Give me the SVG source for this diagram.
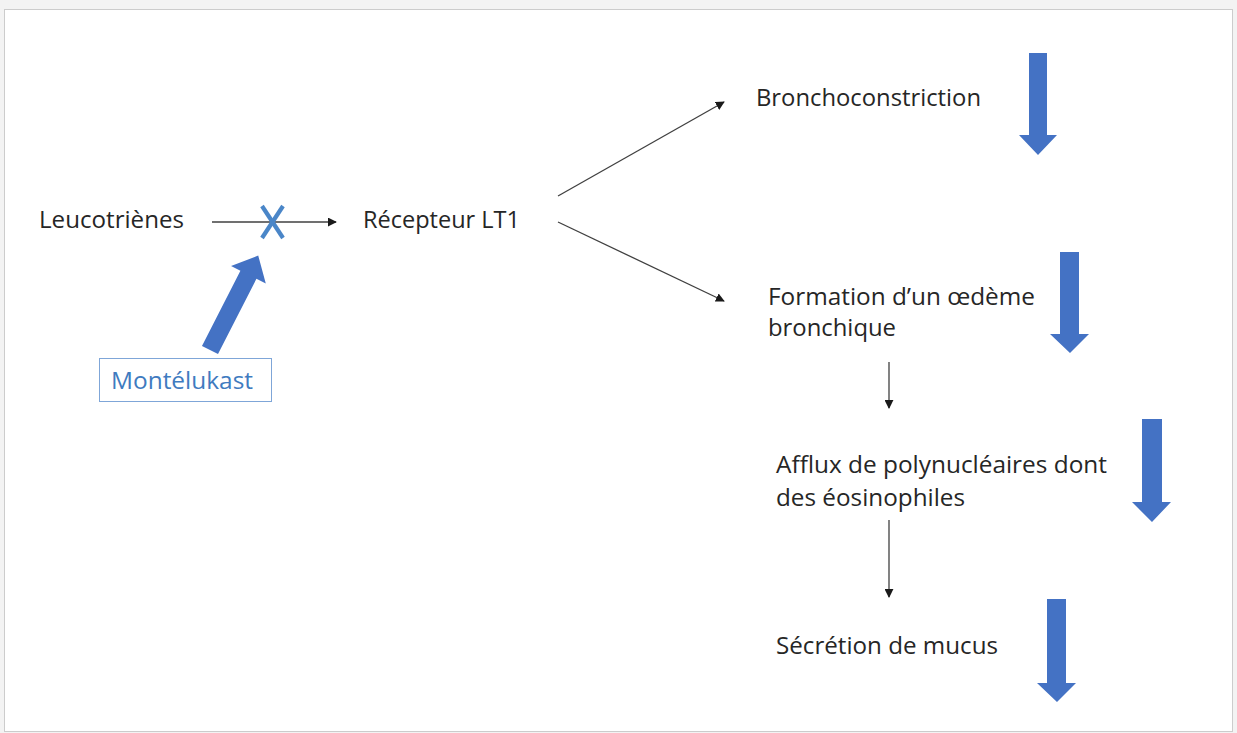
<svg xmlns="http://www.w3.org/2000/svg" width="1237" height="733" viewBox="0 0 1237 733">
<defs>
<style>
.t{font-family:"Open Sans","Noto Sans","Liberation Sans",sans-serif;font-size:23px;fill:#262626}
.b{fill:#4472C4}
.ln{stroke:#404040;stroke-width:1.3;fill:none}
</style>
<marker id="ah" viewBox="0 0 10 10" refX="9" refY="5" markerWidth="9" markerHeight="9" markerUnits="userSpaceOnUse" orient="auto">
<path d="M0,0 L10,5 L0,10 z" fill="#1a1a1a"/>
</marker>
</defs>
<rect x="0" y="0" width="1237" height="733" fill="#f3f3f3"/>
<rect x="4.5" y="9.5" width="1228" height="722" fill="#ffffff" stroke="#cccccc" stroke-width="1"/>

<g id="connectors">
<line class="ln" x1="212" y1="222" x2="336" y2="222" marker-end="url(#ah)"/>
<line class="ln" x1="558" y1="196" x2="724" y2="102" marker-end="url(#ah)"/>
<line class="ln" x1="558" y1="222" x2="724" y2="301" marker-end="url(#ah)"/>
<line class="ln" x1="889" y1="362" x2="889" y2="408" marker-end="url(#ah)"/>
<line class="ln" x1="889" y1="520" x2="889" y2="597" marker-end="url(#ah)"/>
</g>

<g id="block">
<g stroke="#4a86c8" stroke-width="4.2" stroke-linecap="butt">
<line x1="262" y1="206" x2="283" y2="238"/>
<line x1="283" y1="206" x2="262" y2="238"/>
</g>
</g>

<g id="montelukast-arrow">
<polygon class="b" transform="translate(210,350) rotate(-62.95)" points="0,-9 84.5,-9 84.5,-19.5 106,0 84.5,19.5 84.5,9 0,9"/>
</g>

<g id="leucotrienes"><text class="t" x="39" y="228" textLength="145" lengthAdjust="spacingAndGlyphs">Leucotriènes</text></g>
<g id="recepteur"><text class="t" x="363" y="228" textLength="157" lengthAdjust="spacingAndGlyphs">Récepteur LT1</text></g>
<g id="montelukast">
<rect x="99.5" y="358.5" width="172" height="43" fill="#ffffff" stroke="#7fa6d8" stroke-width="1"/>
<text class="t" x="111" y="389" textLength="142" lengthAdjust="spacingAndGlyphs" style="fill:#3f7bc0">Montélukast</text>
</g>
<g id="bronchoconstriction"><text class="t" x="756" y="106" textLength="225" lengthAdjust="spacingAndGlyphs">Bronchoconstriction</text></g>
<g id="oedeme">
<text class="t" x="768" y="305" textLength="267" lengthAdjust="spacingAndGlyphs">Formation d’un œdème</text>
<text class="t" x="768" y="336" textLength="128" lengthAdjust="spacingAndGlyphs">bronchique</text>
</g>
<g id="afflux">
<text class="t" x="776" y="473" textLength="331" lengthAdjust="spacingAndGlyphs">Afflux de polynucléaires dont</text>
<text class="t" x="776" y="506" textLength="189" lengthAdjust="spacingAndGlyphs">des éosinophiles</text>
</g>
<g id="mucus"><text class="t" x="776" y="654" textLength="222" lengthAdjust="spacingAndGlyphs">Sécrétion de mucus</text></g>

<g id="down-arrows">
<polygon class="b" points="1029,53 1047,53 1047,135 1057,135 1038,155 1019,135 1029,135"/>
<polygon class="b" points="1060,252 1079,252 1079,334 1089,334 1070,353 1050,334 1060,334"/>
<polygon class="b" points="1142,419 1162,419 1162,502 1171,502 1152,522 1132,502 1142,502"/>
<polygon class="b" points="1047,599 1066,599 1066,683 1076,683 1057,702 1037,683 1047,683"/>
</g>
</svg>
